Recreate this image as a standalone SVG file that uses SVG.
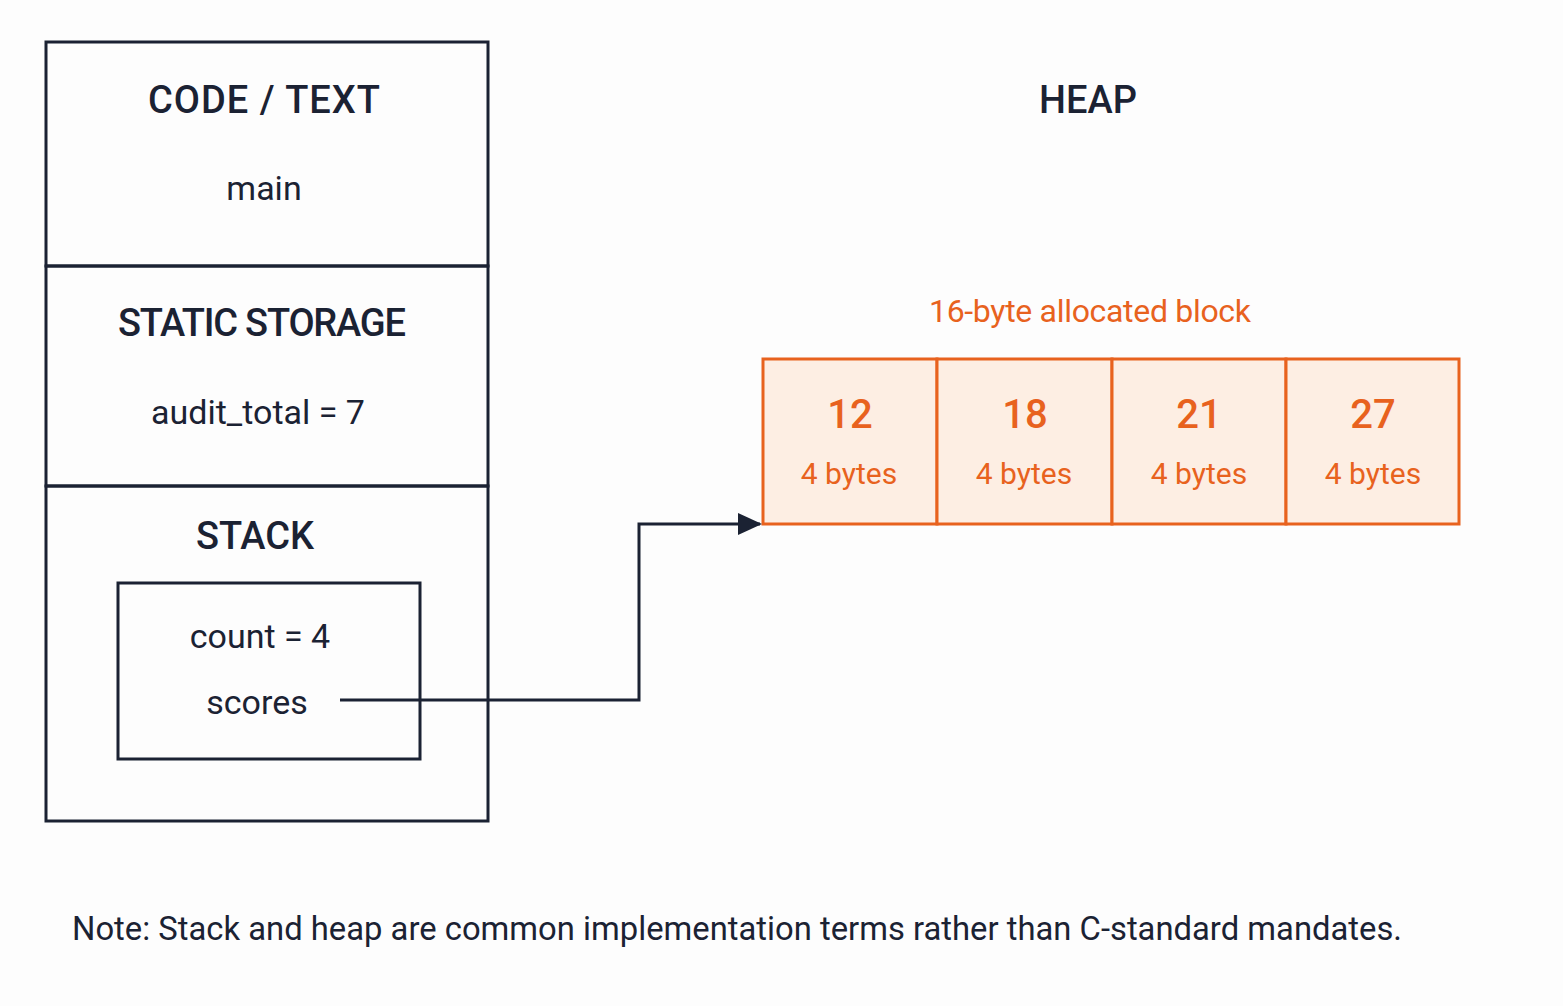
<svg xmlns="http://www.w3.org/2000/svg" width="1563" height="1006" viewBox="0 0 1563 1006">
<style>
.t{font-family:"Roboto","Liberation Sans",sans-serif;fill:#1b2233;text-anchor:middle}
.h{font-size:38px;font-weight:500}
.b{font-size:34px}
.o{fill:#e8621e;font-family:"Roboto","Liberation Sans",sans-serif;text-anchor:middle}
.blk{fill:none;stroke:#1b2233;stroke-width:3}
.cell{fill:#fdeee3;stroke:#e8621e;stroke-width:3}
</style>
<defs><marker id="a" markerWidth="24" markerHeight="24" viewBox="0 0 24 24" refX="22" refY="12" orient="auto" markerUnits="userSpaceOnUse"><path d="M0,1 L24,12 L0,23z" fill="#1b2233"/></marker></defs>
<rect width="1563" height="1006" fill="#fdfdfd"/>
<g id="code"><rect class="blk" x="46" y="42" width="442" height="224"/><text class="t h" x="264" y="113" textLength="232">CODE / TEXT</text><text class="t b" x="264" y="200">main</text></g>
<g id="static"><rect class="blk" x="46" y="266" width="442" height="220"/><text class="t h" x="262" y="336" textLength="288">STATIC STORAGE</text><text class="t b" x="258" y="424">audit_total = 7</text></g>
<g id="stack"><rect class="blk" x="46" y="486" width="442" height="335"/><text class="t h" x="255" y="549">STACK</text>
<rect class="blk" x="118" y="583" width="302" height="176"/><text class="t b" x="260" y="648">count = 4</text><text class="t b" x="257" y="714">scores</text></g>
<g id="heap"><text class="t h" x="1088" y="113">HEAP</text><text class="o" font-size="32" x="1090" y="322" textLength="322">16-byte allocated block</text>
<rect class="cell" x="763" y="359" width="174" height="165"/><rect class="cell" x="937" y="359" width="175" height="165"/><rect class="cell" x="1112" y="359" width="174" height="165"/><rect class="cell" x="1286" y="359" width="173" height="165"/>
<g class="o" font-weight="500" font-size="40"><text x="850" y="428">12</text><text x="1025" y="428">18</text><text x="1199" y="428">21</text><text x="1373" y="428">27</text></g>
<g class="o" font-size="30"><text x="849" y="484">4 bytes</text><text x="1024" y="484">4 bytes</text><text x="1199" y="484">4 bytes</text><text x="1373" y="484">4 bytes</text></g></g>
<g id="connectors"><path d="M340,700 H639 V524 H760" fill="none" stroke="#1b2233" stroke-width="3" marker-end="url(#a)"/></g>
<text class="t" font-size="34" x="72" y="940" style="text-anchor:start" textLength="1330" lengthAdjust="spacingAndGlyphs">Note: Stack and heap are common implementation terms rather than C-standard mandates.</text>
</svg>
